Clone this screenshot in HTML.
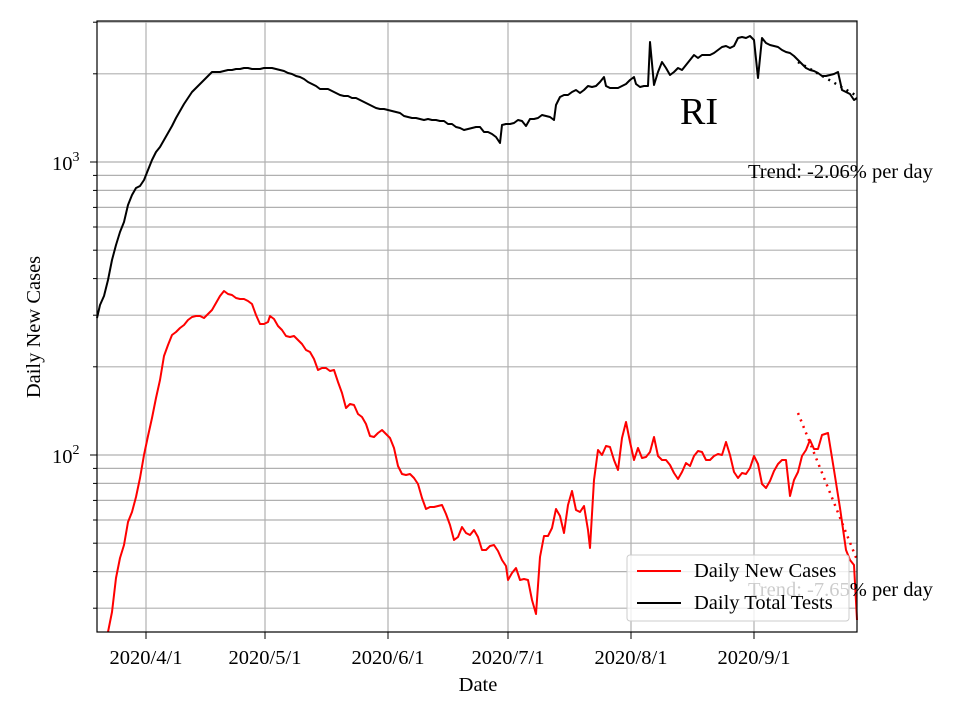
<!DOCTYPE html><html><head><style>body{margin:0;background:#fff}svg{display:block;font-family:"Liberation Serif",serif}</style></head><body>
<svg width="960" height="720" viewBox="0 0 960 720" xmlns="http://www.w3.org/2000/svg">
<g stroke="#b0b0b0" stroke-width="1.2">
<line x1="97" x2="857" y1="608.2" y2="608.2"/><line x1="97" x2="857" y1="571.6" y2="571.6"/><line x1="97" x2="857" y1="543.2" y2="543.2"/><line x1="97" x2="857" y1="520" y2="520"/><line x1="97" x2="857" y1="500.4" y2="500.4"/><line x1="97" x2="857" y1="483.4" y2="483.4"/><line x1="97" x2="857" y1="468.4" y2="468.4"/><line x1="97" x2="857" y1="455" y2="455"/><line x1="97" x2="857" y1="366.8" y2="366.8"/><line x1="97" x2="857" y1="315.2" y2="315.2"/><line x1="97" x2="857" y1="278.6" y2="278.6"/><line x1="97" x2="857" y1="250.2" y2="250.2"/><line x1="97" x2="857" y1="227" y2="227"/><line x1="97" x2="857" y1="207.4" y2="207.4"/><line x1="97" x2="857" y1="190.4" y2="190.4"/><line x1="97" x2="857" y1="175.4" y2="175.4"/><line x1="97" x2="857" y1="162" y2="162"/><line x1="97" x2="857" y1="73.8" y2="73.8"/><line x1="97" x2="857" y1="22.2" y2="22.2"/>
<line x1="146" x2="146" y1="21" y2="632"/><line x1="265" x2="265" y1="21" y2="632"/><line x1="388" x2="388" y1="21" y2="632"/><line x1="508" x2="508" y1="21" y2="632"/><line x1="631" x2="631" y1="21" y2="632"/><line x1="754" x2="754" y1="21" y2="632"/>
</g>
<g stroke="#000" stroke-width="1">
<line x1="90" x2="97" y1="455" y2="455"/><line x1="90" x2="97" y1="162" y2="162"/>
<g><line x1="93" x2="97" y1="608.2" y2="608.2"/><line x1="93" x2="97" y1="571.6" y2="571.6"/><line x1="93" x2="97" y1="543.2" y2="543.2"/><line x1="93" x2="97" y1="520" y2="520"/><line x1="93" x2="97" y1="500.4" y2="500.4"/><line x1="93" x2="97" y1="483.4" y2="483.4"/><line x1="93" x2="97" y1="468.4" y2="468.4"/><line x1="93" x2="97" y1="366.8" y2="366.8"/><line x1="93" x2="97" y1="315.2" y2="315.2"/><line x1="93" x2="97" y1="278.6" y2="278.6"/><line x1="93" x2="97" y1="250.2" y2="250.2"/><line x1="93" x2="97" y1="227" y2="227"/><line x1="93" x2="97" y1="207.4" y2="207.4"/><line x1="93" x2="97" y1="190.4" y2="190.4"/><line x1="93" x2="97" y1="175.4" y2="175.4"/><line x1="93" x2="97" y1="73.8" y2="73.8"/><line x1="93" x2="97" y1="22.2" y2="22.2"/></g>
<line x1="146" x2="146" y1="632" y2="639"/><line x1="265" x2="265" y1="632" y2="639"/><line x1="388" x2="388" y1="632" y2="639"/><line x1="508" x2="508" y1="632" y2="639"/><line x1="631" x2="631" y1="632" y2="639"/><line x1="754" x2="754" y1="632" y2="639"/>
</g>
<polyline fill="none" stroke="#000" stroke-width="2" stroke-linejoin="round" points="97,318 100,305 104,296 108,280 112,260 116,245 120,232 124,222 128,205 132,195 136,188 140,186 144,180 148,170 152,160 156,152 160,147 164,140 168,133 172,126 176,118 180,111 184,104 188,98 192,92 196,88 200,84 204,80 208,76 212,72 216,72 220,72 224,71 228,70 232,70 236,69 240,69 244,68 248,68 252,69 256,69 260,69 264,68 268,68 272,68 276,69 280,70 284,71 288,73 292,74 296,76 300,77 304,79 308,82 312,84 316,86 320,89 324,89 328,89 332,91 336,93 340,95 344,96 348,96 352,98 356,98 360,100 364,102 368,104 372,106 376,108 380,109 384,109 388,110 392,111 396,112 400,113 404,116 408,117 412,118 416,118 420,119 424,120 428,119 432,120 436,120 440,121 444,121 448,124 452,124 456,127 460,128 464,130 468,129 472,128 476,127 480,127 484,132 488,132 492,134 496,137 500,143 502,125 506,124 510,124 514,123 518,120 522,121 526,126 530,119 534,119 538,118 542,115 546,116 550,117 554,120 556,105 560,97 564,95 568,95 572,92 576,90 580,93 584,90 588,86 592,87 596,86 600,82 604,77 606,86 610,88 614,88 618,88 622,86 626,84 630,80 634,77 636,84 640,87 644,86 648,86 650,42 654,85 658,72 662,62 666,68 670,75 674,72 678,68 682,70 686,65 690,60 694,55 698,58 702,55 706,55 710,55 714,53 718,50 722,47 726,46 730,48 734,46 738,38 742,37 746,38 750,36 754,40 758,78 762,38 766,43 770,45 774,46 778,47 782,50 786,52 790,53 794,56 798,60 802,64 806,68 810,70 814,71 818,73 822,76 826,76 830,75 834,74 838,72 842,90 846,92 850,94 854,100 857,98"/>
<line x1="798" y1="62" x2="857" y2="96" stroke="#000" stroke-width="2.5" stroke-dasharray="2,5"/>
<polyline fill="none" stroke="#f00" stroke-width="2" stroke-linejoin="round" points="108,632 112,612 116,578 120,558 124,545 128,522 132,512 136,497 140,478 144,455 148,436 152,418 156,398 160,380 164,356 168,345 172,335 176,332 180,328 184,325 188,320 192,317 196,316 200,316 204,318 208,314 212,310 216,303 220,296 224,291 228,294 232,295 236,298 240,299 244,299 248,301 252,304 256,315 260,324 264,324 268,322 270,316 274,319 278,326 282,330 286,336 290,337 294,336 298,340 302,344 306,350 310,352 314,359 318,370 322,368 326,368 330,371 334,370 338,382 342,393 346,408 350,404 354,405 358,414 362,417 366,424 370,436 374,437 378,433 382,430 386,434 390,438 394,448 398,466 402,474 406,475 410,474 414,478 418,484 422,498 426,509 430,507 434,507 438,506 442,505 446,514 450,525 454,540 458,537 462,527 466,533 470,535 474,530 478,537 482,550 486,550 490,546 494,545 498,551 502,560 506,566 508,580 512,573 516,568 520,580 524,579 528,580 532,600 536,614 540,557 544,536 548,536 552,528 556,509 560,516 564,533 568,505 572,491 576,510 580,512 584,506 588,530 590,548 594,480 598,450 602,455 606,446 610,447 614,460 618,470 622,438 626,422 630,442 634,460 638,448 642,458 646,457 650,452 654,437 658,456 662,460 666,460 670,465 674,473 678,479 682,472 686,463 690,466 694,456 698,451 702,452 706,460 710,460 714,456 718,454 722,455 726,442 730,455 734,472 738,478 742,473 746,474 750,468 754,456 758,464 762,484 766,488 770,481 774,471 778,464 782,460 786,460 790,496 794,480 798,472 802,456 806,450 810,440 814,449 818,449 822,435 828,433 834,470 840,508 846,550 850,560 854,565 857,620"/>
<line x1="798" y1="413" x2="857" y2="560" stroke="#f00" stroke-width="2.5" stroke-dasharray="2,5"/>
<rect x="97" y="21" width="760" height="611" fill="none" stroke="#000" stroke-width="1.2"/>
<g font-size="20.5" fill="#000">
<text x="146" y="664" text-anchor="middle">2020/4/1</text><text x="265" y="664" text-anchor="middle">2020/5/1</text><text x="388" y="664" text-anchor="middle">2020/6/1</text><text x="508" y="664" text-anchor="middle">2020/7/1</text><text x="631" y="664" text-anchor="middle">2020/8/1</text><text x="754" y="664" text-anchor="middle">2020/9/1</text>
<text x="478" y="691" text-anchor="middle">Date</text>
<text transform="translate(40,327) rotate(-90)" text-anchor="middle">Daily New Cases</text>
<text x="52" y="463">10<tspan font-size="14" dy="-9">2</tspan></text>
<text x="52" y="170">10<tspan font-size="14" dy="-9">3</tspan></text>
<text x="748" y="178">Trend: -2.06% per day</text>
<text x="748" y="596">Trend: -7.65% per day</text>
</g>
<text x="680" y="124" font-size="38">RI</text>
<rect x="627" y="555" width="222" height="66" rx="3" fill="rgba(255,255,255,0.8)" stroke="#ccc"/>
<line x1="637" x2="681" y1="571" y2="571" stroke="#f00" stroke-width="2"/>
<line x1="637" x2="681" y1="603" y2="603" stroke="#000" stroke-width="2"/>
<g font-size="20.5"><text x="694" y="577">Daily New Cases</text><text x="694" y="609">Daily Total Tests</text></g>
</svg>
</body></html>
